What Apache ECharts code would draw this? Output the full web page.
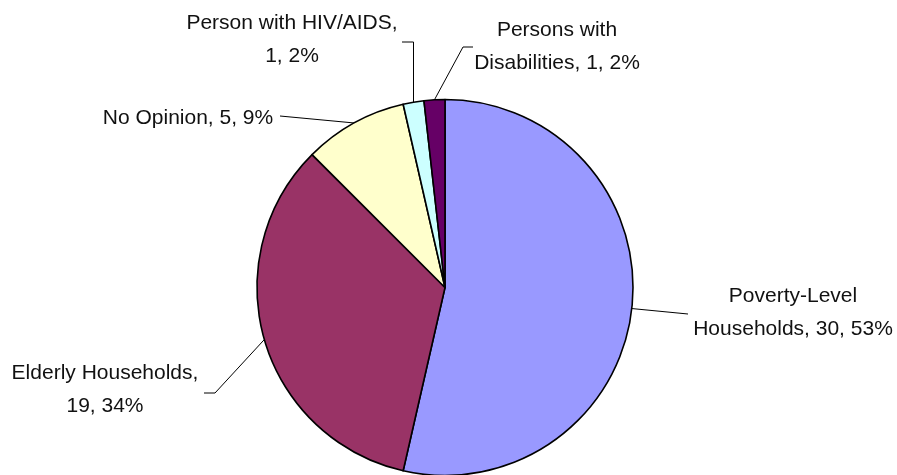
<!DOCTYPE html>
<html>
<head>
<meta charset="utf-8">
<script src="https://cdn.jsdelivr.net/npm/echarts@6/dist/echarts.min.js"></script>
<style>
html,body{margin:0;padding:0;background:#fff;}
#chart{width:897px;height:475px;}
</style>
</head>
<body>
<div id="chart"></div>
<script>
// Data
const categories = ['Poverty-Level Households', 'Elderly Households', 'No Opinion', 'Person with HIV/AIDS', 'Persons with Disabilities'];
const values = [30, 19, 5, 1, 1];
const colors = ['#9999FF', '#993366', '#FFFFCC', '#CCFFFF', '#660066'];
// character index of the space replaced by a line break in each label (-1 = single line)
const breakAt = [13, 19, -1, 21, 12];

// Label layout (positions of label blocks and leader-line elbows)
const labelLayouts = [
  { x: 793, y: 313, pts: [[688, 314]] },
  { x: 105, y: 390, pts: [[215, 393], [204, 393]] },
  { x: 188, y: 118, pts: [[280, 116]] },
  { x: 292, y: 40, pts: [[null, 42], [402, 42]] },
  { x: 557, y: 47, pts: [[463, 47], [473, 47]] }
];

const chart = echarts.init(document.getElementById('chart'), null, { renderer: 'canvas' });

const option = {
  animation: false,
  backgroundColor: '#ffffff',
  series: [{
    type: 'pie',
    center: [445, 287.5],
    radius: 188,
    startAngle: 90,
    clockwise: true,
    percentPrecision: 0,
    data: categories.map((c, i) => ({
      name: c,
      value: values[i],
      itemStyle: { color: colors[i] }
    })),
    itemStyle: { borderColor: '#000', borderWidth: 1.6 },
    label: {
      show: true,
      position: 'outside',
      color: '#111',
      fontFamily: "'Liberation Sans', Arial, sans-serif",
      fontSize: 21,
      lineHeight: 33,
      align: 'center',
      overflow: 'none',
      formatter: function (p) {
        let s = p.name + ', ' + p.value + ', ' + p.percent + '%';
        const b = breakAt[p.dataIndex];
        if (b >= 0) s = s.slice(0, b) + '\n' + s.slice(b + 1);
        return s;
      }
    },
    labelLine: {
      show: true,
      length: 20,
      length2: 20,
      lineStyle: { color: '#000', width: 1 }
    },
    emphasis: { disabled: true },
    labelLayout: function (params) {
      const L = labelLayouts[params.dataIndex];
      const edge = params.labelLinePoints ? params.labelLinePoints[0] : [0, 0];
      const pts = [edge].concat(L.pts.map(p => [p[0] == null ? edge[0] : p[0], p[1]]));
      return {
        x: L.x,
        y: L.y,
        align: 'center',
        verticalAlign: 'middle',
        labelLinePoints: pts
      };
    }
  }]
};
chart.setOption(option);
</script>
</body>
</html>
